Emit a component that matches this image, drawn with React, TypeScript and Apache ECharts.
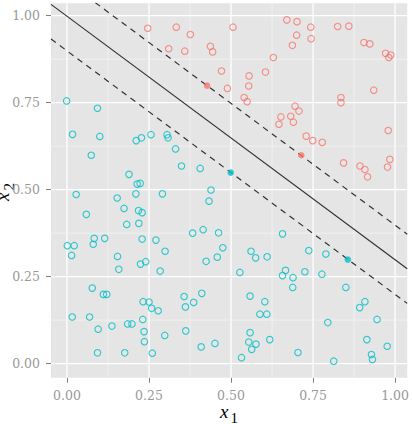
import React, { useEffect, useRef } from "react";
import * as echarts from "echarts";

// ---- data ----
const redX = [0.246, 0.333, 0.376, 0.31, 0.359, 0.437, 0.444, 0.471, 0.489, 0.506, 0.67, 0.701, 0.743, 0.7, 0.744, 0.687, 0.825, 0.859, 0.905, 0.923, 0.971, 0.987, 0.981, 0.629, 0.605, 0.555, 0.554, 0.54, 0.549, 0.935, 0.835, 0.835, 0.695, 0.707, 0.652, 0.682, 0.646, 0.69, 0.979, 0.729, 0.749, 0.778, 0.843, 0.893, 0.908, 0.916, 0.984, 0.977];
const redY = [0.964, 0.967, 0.946, 0.905, 0.898, 0.912, 0.896, 0.841, 0.791, 0.967, 0.988, 0.983, 0.967, 0.944, 0.934, 0.915, 0.969, 0.97, 0.923, 0.919, 0.892, 0.887, 0.88, 0.88, 0.838, 0.827, 0.798, 0.765, 0.753, 0.786, 0.765, 0.75, 0.74, 0.726, 0.709, 0.711, 0.688, 0.694, 0.67, 0.654, 0.641, 0.636, 0.577, 0.568, 0.558, 0.537, 0.587, 0.565];

const blueX = [-0.001, 0.093, 0.017, 0.1, 0.211, 0.227, 0.256, 0.305, 0.308, 0.331, 0.074, 0.349, 0.406, 0.189, 0.214, 0.223,
  0.028, 0.153, 0.21, 0.291, 0.439, 0.433, 0.174, 0.218, 0.229, 0.059, 0.182, 0.219, 0.383, 0.415, 0.462, 0.083, 0.115, 0.08, 0.229, 0.271, 0.001, 0.022, 0.014, 0.299, 0.475, 0.154, 0.24, 0.224, 0.424, 0.458, 0.158, 0.284, 0.077, 0.111, 0.121, 0.232, 0.25, 0.258, 0.278, 0.357, 0.411, 0.361, 0.386, 0.016, 0.069, 0.231, 0.095, 0.137, 0.185, 0.198, 0.235, 0.298, 0.362, 0.236, 0.409, 0.451, 0.093, 0.176, 0.26,
  0.657, 0.561, 0.575, 0.61, 0.737, 0.789, 0.527, 0.666, 0.657, 0.689, 0.725, 0.777, 0.688, 0.85, 0.558, 0.603, 0.908, 0.892, 0.588, 0.609, 0.945, 0.795, 0.558, 0.554, 0.576, 0.563, 0.618, 0.914, 0.976, 0.704, 0.928, 0.931, 0.532, 0.813];
const blueY = [0.755, 0.734, 0.659, 0.653, 0.641, 0.649, 0.658, 0.658, 0.649, 0.617, 0.599, 0.568, 0.561, 0.544, 0.516, 0.518,
  0.486, 0.476, 0.488, 0.488, 0.499, 0.467, 0.446, 0.44, 0.434, 0.429, 0.4, 0.403, 0.375, 0.385, 0.376, 0.36, 0.36, 0.343, 0.358, 0.355, 0.339, 0.339, 0.311, 0.323, 0.333, 0.308, 0.293, 0.286, 0.294, 0.306, 0.271, 0.266, 0.217, 0.199, 0.199, 0.178, 0.177, 0.159, 0.152, 0.193, 0.202, 0.163, 0.176, 0.134, 0.134, 0.127, 0.099, 0.108, 0.114, 0.114, 0.092, 0.081, 0.094, 0.063, 0.048, 0.058, 0.031, 0.031, 0.03,
  0.373, 0.323, 0.304, 0.307, 0.325, 0.315, 0.262, 0.268, 0.253, 0.247, 0.264, 0.257, 0.219, 0.219, 0.194, 0.178, 0.178, 0.161, 0.142, 0.142, 0.127, 0.118, 0.089, 0.062, 0.056, 0.041, 0.069, 0.069, 0.05, 0.032, 0.026, 0.012, 0.017, 0.007];

const redSVX = [0.427, 0.714];
const redSVY = [0.799, 0.599];
const blueSVX = [0.499, 0.856];
const blueSVY = [0.549, 0.299];

const slope = -0.7;
const interceptSolid = 0.9985;
const interceptUpper = 1.098;
const interceptLower = 0.899;

const majorTicks = [0, 0.25, 0.5, 0.75, 1];
const minorTicks = [0.125, 0.375, 0.625, 0.875];
const tickLabels = ["0.00", "0.25", "0.50", "0.75", "1.00"];

const X_MIN = -0.0487;
const X_MAX = 1.037;
const Y_MIN = -0.0405;
const Y_MAX = 1.0357;

const RED = "#F8766D";
const TEAL = "#00BFC4";
const TICK_FONT = "'DejaVu Serif', 'Liberation Serif', serif";
const TITLE_FONT = "'Liberation Serif', 'DejaVu Serif', serif";

const zip = (xs: number[], ys: number[]) => xs.map((x, i) => [x, ys[i]]);
const lineData = (b: number) => [
  [X_MIN, b + slope * X_MIN],
  [X_MAX, b + slope * X_MAX],
];
const labelFor = (v: number) => {
  let best = 0;
  majorTicks.forEach((t, i) => {
    if (Math.abs(t - v) < Math.abs(majorTicks[best] - v)) best = i;
  });
  return tickLabels[best];
};

export default function App() {
  const ref = useRef<HTMLDivElement>(null);

  useEffect(() => {
    document.body.style.margin = "0";
    if (!ref.current) return;
    const chart = echarts.init(ref.current, undefined, { renderer: "svg" });

    const gridData = [
      ...majorTicks.map((v) => [v, 0, 1]),
      ...minorTicks.map((v) => [v, 0, 0]),
      ...majorTicks.map((v) => [v, 1, 1]),
      ...minorTicks.map((v) => [v, 1, 0]),
    ];

    const axisCommon = {
      type: "value" as const,
      axisLine: { show: false, onZero: false },
      splitLine: { show: false },
      axisTick: {
        show: true,
        customValues: majorTicks,
        length: 5,
        lineStyle: { color: "#7F7F7F", width: 1 },
      },
      axisLabel: {
        customValues: majorTicks,
        formatter: (v: number) => labelFor(v),
        color: "#999999",
        fontFamily: TICK_FONT,
        fontSize: 12.5,
      },
    };

    chart.setOption({
      animation: false,
      backgroundColor: "#FFFFFF",
      grid: {
        left: 51,
        right: 4,
        top: 3.3,
        bottom: 46.3,
        show: true,
        backgroundColor: "#E5E5E5",
        borderWidth: 0,
        containLabel: false,
      },
      xAxis: {
        ...axisCommon,
        min: X_MIN,
        max: X_MAX,
        axisLabel: { ...axisCommon.axisLabel, margin: 11 },
      },
      yAxis: {
        ...axisCommon,
        min: Y_MIN,
        max: Y_MAX,
        axisLabel: { ...axisCommon.axisLabel, margin: 11 },
      },
      series: [
        {
          type: "custom",
          silent: true,
          z: 1,
          data: gridData,
          renderItem: (params: any, api: any) => {
            const v = api.value(0);
            const dir = api.value(1);
            const major = api.value(2);
            const p1 = dir === 0 ? api.coord([v, Y_MIN]) : api.coord([X_MIN, v]);
            const p2 = dir === 0 ? api.coord([v, Y_MAX]) : api.coord([X_MAX, v]);
            return {
              type: "line",
              shape: { x1: p1[0], y1: p1[1], x2: p2[0], y2: p2[1] },
              style: {
                stroke: major ? "#FFFFFF" : "#F2F2F2",
                lineWidth: major ? 1.3 : 0.8,
              },
            };
          },
        },
        {
          type: "line",
          data: lineData(interceptSolid),
          symbol: "none",
          silent: true,
          clip: true,
          z: 3,
          lineStyle: { color: "#333333", width: 1.2, type: "solid" },
        },
        {
          type: "line",
          data: lineData(interceptUpper),
          symbol: "none",
          silent: true,
          clip: true,
          z: 3,
          lineStyle: { color: "#333333", width: 1.2, type: [6, 5] },
        },
        {
          type: "line",
          data: lineData(interceptLower),
          symbol: "none",
          silent: true,
          clip: true,
          z: 3,
          lineStyle: { color: "#333333", width: 1.2, type: [6, 5] },
        },
        {
          type: "scatter",
          data: zip(redX, redY),
          symbol: "circle",
          symbolSize: 6.5,
          z: 4,
          itemStyle: { color: "rgba(0,0,0,0)", borderColor: RED, borderWidth: 1.1 },
        },
        {
          type: "scatter",
          data: zip(blueX, blueY),
          symbol: "circle",
          symbolSize: 6.5,
          z: 4,
          itemStyle: { color: "rgba(0,0,0,0)", borderColor: TEAL, borderWidth: 1.1 },
        },
        {
          type: "scatter",
          data: zip(redSVX, redSVY),
          symbol: "circle",
          symbolSize: 6.5,
          z: 5,
          itemStyle: { color: RED },
        },
        {
          type: "scatter",
          data: zip(blueSVX, blueSVY),
          symbol: "circle",
          symbolSize: 6.5,
          z: 5,
          itemStyle: { color: TEAL },
        },
      ],
      graphic: [
        {
          type: "group",
          x: 220,
          y: 421,
          children: [
            {
              type: "text",
              x: 0,
              y: 0,
              style: {
                text: "x",
                font: `italic 19px ${TITLE_FONT}`,
                fill: "#000000",
                align: "left",
                verticalAlign: "bottom",
              },
            },
            {
              type: "text",
              x: 10.5,
              y: 4,
              style: {
                text: "1",
                font: `15px ${TITLE_FONT}`,
                fill: "#000000",
                align: "left",
                verticalAlign: "bottom",
              },
            },
          ],
        },
        {
          type: "group",
          x: 12,
          y: 201,
          rotation: Math.PI / 2,
          children: [
            {
              type: "text",
              x: 0,
              y: 0,
              style: {
                text: "x",
                font: `italic 19px ${TITLE_FONT}`,
                fill: "#000000",
                align: "left",
                verticalAlign: "bottom",
              },
            },
            {
              type: "text",
              x: 10.5,
              y: 4,
              style: {
                text: "2",
                font: `15px ${TITLE_FONT}`,
                fill: "#000000",
                align: "left",
                verticalAlign: "bottom",
              },
            },
          ],
        },
      ],
    });

    return () => chart.dispose();
  }, []);

  return <div ref={ref} style={{ width: 412, height: 424 }} />;
}
